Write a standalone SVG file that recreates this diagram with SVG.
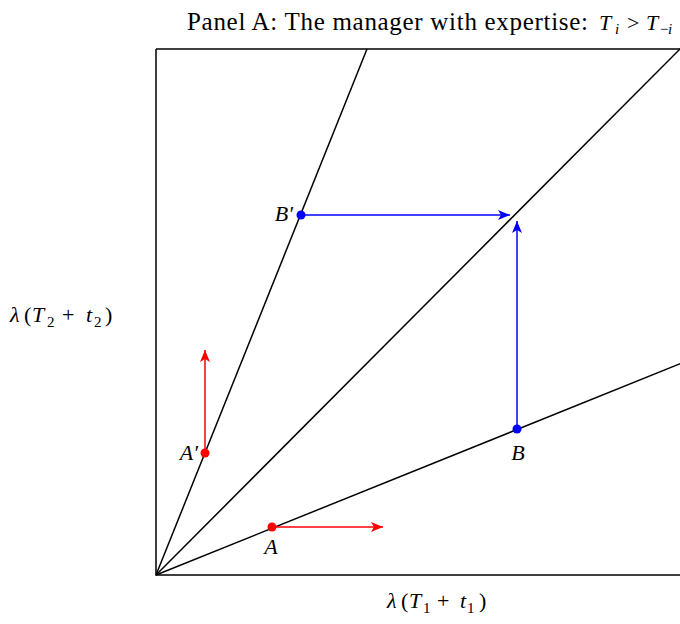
<svg xmlns="http://www.w3.org/2000/svg" width="680" height="624" viewBox="0 0 680 624">
<style>
.t{font-family:"Liberation Serif","Times New Roman",serif;font-size:25px;fill:#000}
.m{font-family:"Liberation Serif","Times New Roman",serif;font-size:22px;font-style:italic;fill:#000}
.up{font-style:normal}
.s{font-size:15px}
.ln{stroke:#000;stroke-width:1.5;fill:none}
.red{stroke:#f00;stroke-width:1.5;fill:none}
.blue{stroke:#00f;stroke-width:1.5;fill:none}
</style>
<defs>
<marker id="ar" viewBox="0 0 12 10" refX="12" refY="5" markerWidth="12" markerHeight="10" markerUnits="userSpaceOnUse" orient="auto"><path d="M0,0 L12,5 L0,10 L3,5 Z" fill="#f00"/></marker>
<marker id="ab" viewBox="0 0 12 10" refX="12" refY="5" markerWidth="12" markerHeight="10" markerUnits="userSpaceOnUse" orient="auto"><path d="M0,0 L12,5 L0,10 L3,5 Z" fill="#00f"/></marker>
</defs>
<rect width="680" height="624" fill="#fff"/>
<g id="title">
<text class="t" x="187" y="30" textLength="401" lengthAdjust="spacing">Panel A: The manager with expertise:</text>
<text class="m" y="30" font-size="23"><tspan x="599">T</tspan><tspan class="s" x="615" y="34">i</tspan><tspan class="up" x="627" y="30">&gt;</tspan><tspan x="646">T</tspan><tspan class="s up" x="660" y="34">−</tspan><tspan class="s" x="668">i</tspan></text>
</g>
<g id="frame">
<path class="ln" d="M156,49 H681 M156,49 V575 H681"/>
</g>
<g id="rays">
<line class="ln" x1="156" y1="575" x2="367" y2="49"/>
<line class="ln" x1="156" y1="575" x2="682" y2="47"/>
<line class="ln" x1="156" y1="575" x2="682" y2="363"/>
</g>
<g id="connectors">
<line class="blue" x1="301" y1="215" x2="510" y2="215" marker-end="url(#ab)"/>
<line class="blue" x1="517" y1="429" x2="517" y2="221" marker-end="url(#ab)"/>
<line class="red" x1="205" y1="453" x2="205" y2="350" marker-end="url(#ar)"/>
<line class="red" x1="272" y1="527" x2="383" y2="527" marker-end="url(#ar)"/>
</g>
<g id="Bp"><circle cx="301" cy="215" r="4.5" fill="#00f"/><text class="m" x="293" y="221" text-anchor="end">B′</text></g>
<g id="B"><circle cx="517" cy="429" r="4.5" fill="#00f"/><text class="m" x="518" y="460" text-anchor="middle">B</text></g>
<g id="Ap"><circle cx="205" cy="453" r="4.5" fill="#f00"/><text class="m" x="198" y="460" text-anchor="end">A′</text></g>
<g id="A"><circle cx="272" cy="527" r="4.5" fill="#f00"/><text class="m" x="271" y="554" text-anchor="middle">A</text></g>
<g id="ylabel"><text class="m" y="322"><tspan x="10">λ</tspan><tspan class="up" x="24">(</tspan><tspan x="32">T</tspan><tspan class="up s" x="47" y="327">2</tspan><tspan class="up" x="62" y="322">+</tspan><tspan x="86">t</tspan><tspan class="up s" x="94" y="327">2</tspan><tspan class="up" x="105" y="322">)</tspan></text></g>
<g id="xlabel"><text class="m" y="608"><tspan x="387">λ</tspan><tspan class="up" x="401">(</tspan><tspan x="409">T</tspan><tspan class="up s" x="423" y="613">1</tspan><tspan class="up" x="437" y="608">+</tspan><tspan x="460">t</tspan><tspan class="up s" x="467" y="613">1</tspan><tspan class="up" x="479" y="608">)</tspan></text></g>
</svg>
